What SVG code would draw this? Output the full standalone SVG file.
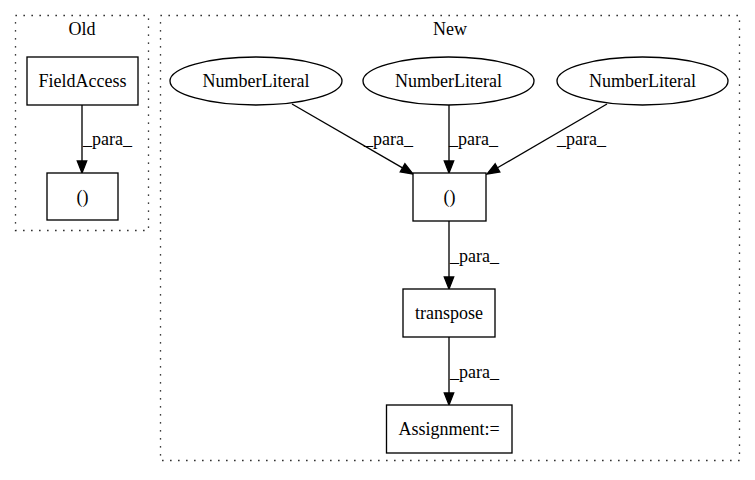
<svg xmlns="http://www.w3.org/2000/svg" width="755" height="480" viewBox="0 0 755 480">
<style>
text{font-family:"Liberation Serif","Times New Roman",serif;font-size:18px;fill:#000}
.c{text-anchor:middle}
.cl{fill:none;stroke:#000;stroke-width:1.33;stroke-dasharray:1.3,6.7}
.n{fill:#fff;stroke:#000;stroke-width:1.33}
.e{fill:none;stroke:#000;stroke-width:1.33}
.h{fill:#000;stroke:#000;stroke-width:1.33}
</style>
<rect width="755" height="480" fill="#fff"/>
<g id="cluster_old">
<rect class="cl" x="15.5" y="15.5" width="133" height="215"/>
<text class="c" x="82" y="35">Old</text>
</g>
<g id="cluster_new">
<rect class="cl" x="160.5" y="15.5" width="579" height="445"/>
<text class="c" x="450" y="35">New</text>
</g>
<g id="connectors">
<path class="e" d="M82,105 L82,161"/>
<polygon class="h" points="77.3,161 82,173 86.7,161"/>
<text x="83" y="145">_para_</text>
<path class="e" d="M292,104 L402.5,167.8"/>
<polygon class="h" points="400.2,171.9 413,174 404.9,163.8"/>
<text x="364" y="145">_para_</text>
<path class="e" d="M449,105 L449,161"/>
<polygon class="h" points="444.3,161 449,173 453.7,161"/>
<text x="449" y="145">_para_</text>
<path class="e" d="M607,104 L497.5,167.8"/>
<polygon class="h" points="495.1,163.8 487,174 499.8,171.9"/>
<text x="557" y="145">_para_</text>
<path class="e" d="M449,221 L449,277"/>
<polygon class="h" points="444.3,277 449,289 453.7,277"/>
<text x="450" y="262">_para_</text>
<path class="e" d="M449,337 L449,393"/>
<polygon class="h" points="444.3,393 449,405 453.7,393"/>
<text x="450" y="378">_para_</text>
</g>
<g id="old_fieldaccess">
<rect class="n" x="27" y="57" width="111" height="48"/>
<text class="c" x="82.5" y="87">FieldAccess</text>
</g>
<g id="old_paren">
<rect class="n" x="47" y="173" width="71" height="47"/>
<text class="c" x="82.5" y="203">()</text>
</g>
<g id="num1">
<ellipse class="n" cx="256" cy="81" rx="86" ry="24"/>
<text class="c" x="256" y="87">NumberLiteral</text>
</g>
<g id="num2">
<ellipse class="n" cx="448.5" cy="81" rx="85.5" ry="24"/>
<text class="c" x="448.5" y="87">NumberLiteral</text>
</g>
<g id="num3">
<ellipse class="n" cx="642.5" cy="81" rx="85.5" ry="24"/>
<text class="c" x="642.5" y="87">NumberLiteral</text>
</g>
<g id="new_paren">
<rect class="n" x="413" y="173" width="73" height="48"/>
<text class="c" x="449.5" y="203">()</text>
</g>
<g id="transpose">
<rect class="n" x="403" y="289" width="92" height="48"/>
<text class="c" x="449" y="319">transpose</text>
</g>
<g id="assignment">
<rect class="n" x="386.5" y="405" width="125.5" height="48"/>
<text class="c" x="449" y="435">Assignment:=</text>
</g>
</svg>
